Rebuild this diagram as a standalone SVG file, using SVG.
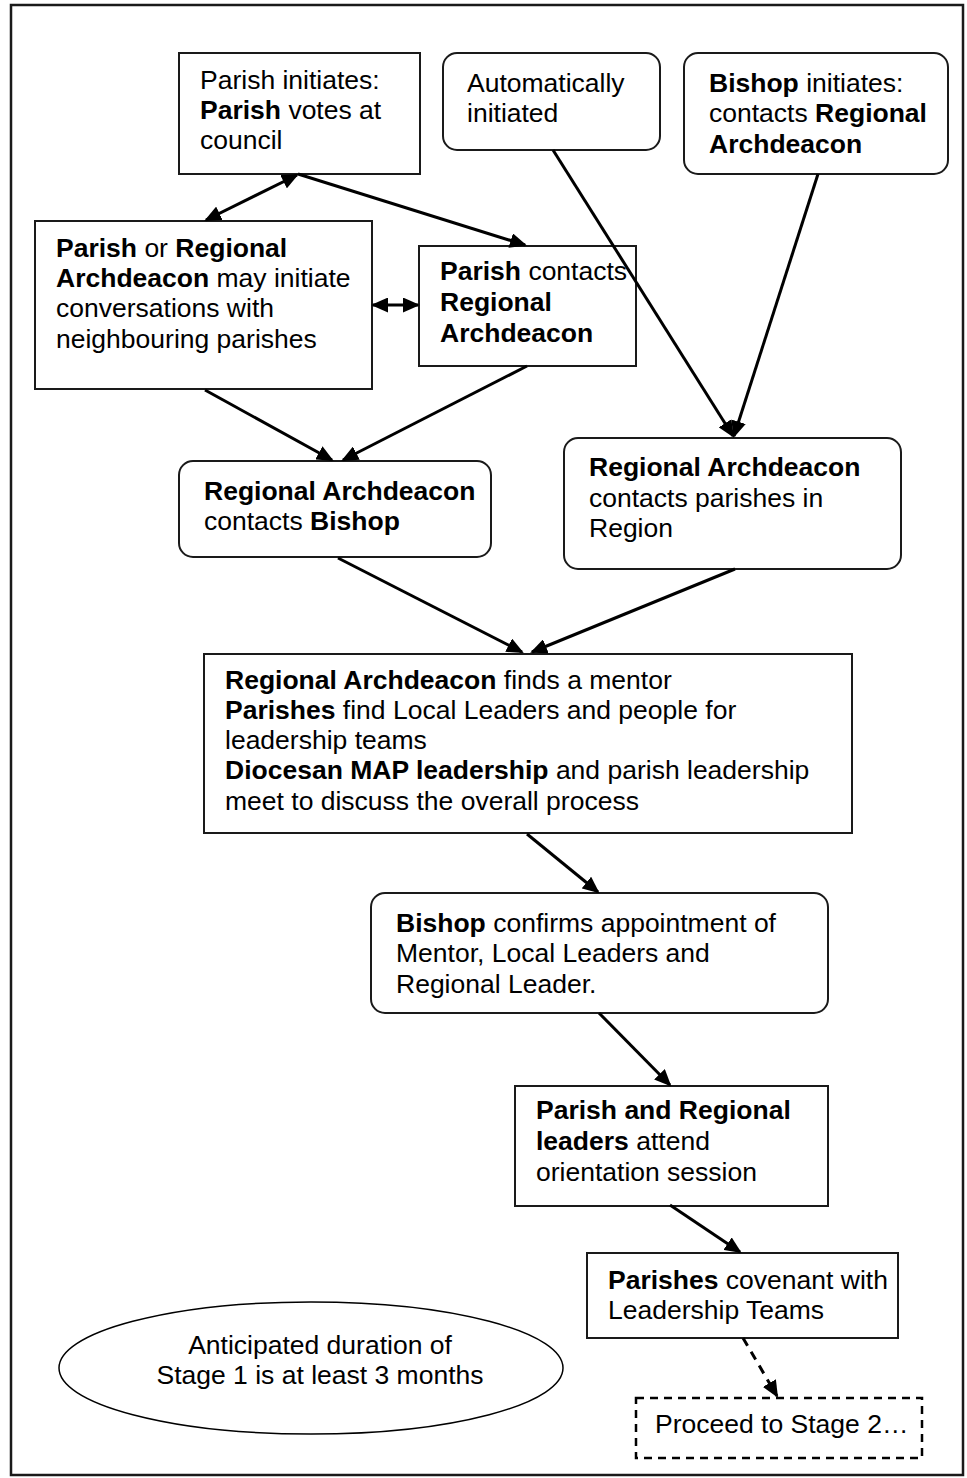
<svg xmlns="http://www.w3.org/2000/svg" width="967" height="1478" viewBox="0 0 967 1478">
<style>
text{font-family:"Liberation Sans",Arial,sans-serif;font-size:26.5px;fill:#000}
.b{font-weight:bold}
.box{fill:#fff;stroke:#1a1a1a;stroke-width:2}
.c{stroke:#000;stroke-width:3;fill:none;marker-end:url(#ah)}
.d{stroke:#000;stroke-width:3;fill:none;marker-end:url(#ah);marker-start:url(#ah)}
</style>
<defs>
<marker id="ah" markerUnits="userSpaceOnUse" markerWidth="17" markerHeight="15" refX="15" refY="7.5" orient="auto-start-reverse">
<path d="M0,0 L17,7.5 L0,15 z" fill="#000"/>
</marker>
</defs>
<rect x="0" y="0" width="967" height="1478" fill="#fff"/>
<rect id="frame" x="11" y="5" width="952" height="1470" fill="none" stroke="#1a1a1a" stroke-width="2.5"/>

<g id="n1">
<rect class="box" x="179" y="53" width="241" height="121"/>
<text x="200" y="89">Parish initiates:</text>
<text x="200" y="119"><tspan class="b">Parish</tspan> votes at</text>
<text x="200" y="149">council</text>
</g>

<g id="n2">
<rect class="box" x="443" y="53" width="217" height="97" rx="14"/>
<text x="467" y="92">Automatically</text>
<text x="467" y="122">initiated</text>
</g>

<g id="n3">
<rect class="box" x="684" y="53" width="264" height="121" rx="14"/>
<text x="709" y="92"><tspan class="b">Bishop</tspan> initiates:</text>
<text x="709" y="122">contacts <tspan class="b">Regional</tspan></text>
<text x="709" y="153" class="b">Archdeacon</text>
</g>

<g id="n4">
<rect class="box" x="35" y="221" width="337" height="168"/>
<text x="56" y="257"><tspan class="b">Parish</tspan> or <tspan class="b">Regional</tspan></text>
<text x="56" y="287"><tspan class="b">Archdeacon</tspan> may initiate</text>
<text x="56" y="317">conversations with</text>
<text x="56" y="348">neighbouring parishes</text>
</g>

<g id="n5">
<rect class="box" x="419" y="246" width="217" height="120"/>
<text x="440" y="280"><tspan class="b">Parish</tspan> contacts</text>
<text x="440" y="311" class="b">Regional</text>
<text x="440" y="342" class="b">Archdeacon</text>
</g>

<g id="n6">
<rect class="box" x="179" y="461" width="312" height="96" rx="14"/>
<text x="204" y="500" class="b">Regional Archdeacon</text>
<text x="204" y="530">contacts <tspan class="b">Bishop</tspan></text>
</g>

<g id="n7">
<rect class="box" x="564" y="438" width="337" height="131" rx="14"/>
<text x="589" y="476" class="b">Regional Archdeacon</text>
<text x="589" y="507">contacts parishes in</text>
<text x="589" y="537">Region</text>
</g>

<g id="n8">
<rect class="box" x="204" y="654" width="648" height="179"/>
<text x="225" y="689"><tspan class="b">Regional Archdeacon</tspan> finds a mentor</text>
<text x="225" y="719"><tspan class="b">Parishes</tspan> find Local Leaders and people for</text>
<text x="225" y="749">leadership teams</text>
<text x="225" y="779"><tspan class="b">Diocesan MAP leadership</tspan> and parish leadership</text>
<text x="225" y="810">meet to discuss the overall process</text>
</g>

<g id="n9">
<rect class="box" x="371" y="893" width="457" height="120" rx="14"/>
<text x="396" y="932"><tspan class="b">Bishop</tspan> confirms appointment of</text>
<text x="396" y="962">Mentor, Local Leaders and</text>
<text x="396" y="993">Regional Leader.</text>
</g>

<g id="n10">
<rect class="box" x="515" y="1086" width="313" height="120"/>
<text x="536" y="1119" class="b">Parish and Regional</text>
<text x="536" y="1150"><tspan class="b">leaders</tspan> attend</text>
<text x="536" y="1181">orientation session</text>
</g>

<g id="n11">
<rect class="box" x="587" y="1253" width="311" height="85"/>
<text x="608" y="1289"><tspan class="b">Parishes</tspan> covenant with</text>
<text x="608" y="1319">Leadership Teams</text>
</g>

<g id="n12">
<ellipse cx="311" cy="1368" rx="252" ry="66" fill="#fff" stroke="#000" stroke-width="1.5"/>
<text x="320" y="1354" text-anchor="middle">Anticipated duration of</text>
<text x="320" y="1384" text-anchor="middle">Stage 1 is at least 3 months</text>
</g>

<g id="n13">
<rect x="636" y="1398" width="286" height="60" fill="#fff" stroke="#000" stroke-width="2.5" stroke-dasharray="8,6"/>
<text x="655" y="1433">Proceed to Stage 2…</text>
</g>

<g id="connectors">
<line class="d" x1="297" y1="175" x2="206" y2="220"/>
<line class="c" x1="298" y1="174" x2="525" y2="245"/>
<line class="d" x1="373" y1="305" x2="418" y2="305"/>
<line class="c" x1="553" y1="150" x2="733" y2="436"/>
<line class="c" x1="818" y1="174" x2="734" y2="436"/>
<line class="c" x1="205" y1="390" x2="332" y2="460"/>
<line class="c" x1="527" y1="366" x2="343" y2="460"/>
<line class="c" x1="338" y1="558" x2="522" y2="652"/>
<line class="c" x1="735" y1="569" x2="532" y2="652"/>
<line class="c" x1="527" y1="834" x2="598" y2="892"/>
<line class="c" x1="599" y1="1013" x2="670" y2="1085"/>
<line class="c" x1="670" y1="1205" x2="740" y2="1252"/>
<line class="c" x1="743" y1="1338" x2="777" y2="1396" stroke-dasharray="9,7"/>
</g>
</svg>
